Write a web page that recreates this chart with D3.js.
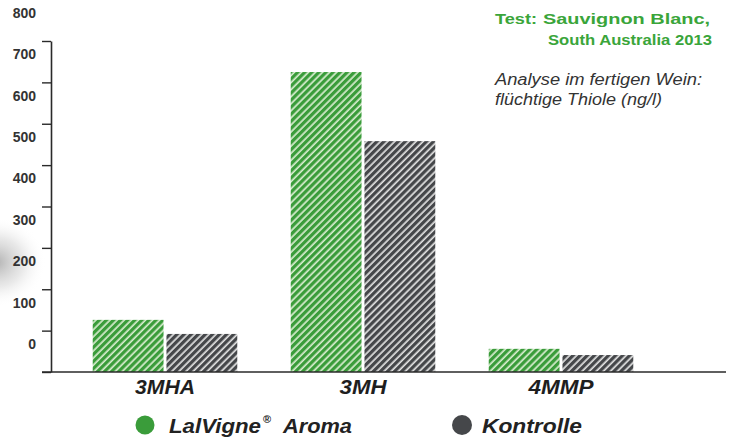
<!DOCTYPE html>
<html>
<head>
<meta charset="utf-8">
<script src="https://cdn.jsdelivr.net/npm/d3@7"></script>
<style>
  body { margin: 0; background: #fff; }
  svg { display: block; font-family: 'Liberation Sans', Arial, sans-serif; }
</style>
</head>
<body>
<svg id="chart" width="732" height="440"></svg>
<script>
// values (ng/l)
const categories = ['3MHA', '3MH', '4MMP'];
const serieses = ['LalVigne', 'Kontrolle'];
const lalvigne = [126, 725, 56];
const kontrolle = [92, 558, 41];
const yTicks = [0, 100, 200, 300, 400, 500, 600, 700, 800];

const colors = { LalVigne: '#3a9c3a', Kontrolle: '#45474a' };
const stripe = { LalVigne: '#d8eccf', Kontrolle: '#e2e2e2' };

const svg = d3.select('#chart');
const axisX = 51;
const baseY = 372;

const yScale = d3.scaleLinear().domain([0, 800]).range([baseY, 41]);
const xScale = d3.scaleBand().domain(categories).range([66, 660]).paddingInner(0.27).paddingOuter(0.135);
const xInner = d3.scaleBand().domain(serieses).range([0, xScale.bandwidth()]).paddingInner(0.04);

// stretched text, the original lettering is wider than Arial
function label(x, y, txt, size, len, opts = {}) {
  return svg.append('text')
    .attr('x', x).attr('y', y)
    .attr('fill', opts.fill || '#222')
    .attr('textLength', len)
    .attr('lengthAdjust', 'spacingAndGlyphs')
    .attr('text-anchor', opts.anchor || 'start')
    .style('font-size', size + 'px')
    .style('font-weight', opts.weight || 'normal')
    .style('font-style', opts.style || 'normal')
    .text(txt);
}

// soft shadow on the left edge
const defs = svg.append('defs');
const shade = defs.append('radialGradient').attr('id', 'shade');
shade.append('stop').attr('offset', '0%').attr('stop-color', '#888').attr('stop-opacity', 0.65);
shade.append('stop').attr('offset', '55%').attr('stop-color', '#b5b5b5').attr('stop-opacity', 0.3);
shade.append('stop').attr('offset', '100%').attr('stop-color', '#ffffff').attr('stop-opacity', 0);
svg.append('ellipse')
  .attr('cx', -4).attr('cy', 262).attr('rx', 50).attr('ry', 45)
  .attr('fill', 'url(#shade)');

// hatch patterns
serieses.forEach((s) => {
  const p = defs.append('pattern')
    .attr('id', 'hatch-' + s)
    .attr('patternUnits', 'userSpaceOnUse')
    .attr('width', 5).attr('height', 5)
    .attr('patternTransform', 'rotate(45)');
  p.append('rect').attr('width', 5).attr('height', 5).attr('fill', stripe[s]);
  p.append('rect').attr('width', 3.3).attr('height', 5).attr('fill', colors[s]);
});

// y axis
const yAxis = d3.axisLeft(yScale).tickValues(yTicks).tickSize(9).tickSizeOuter(0).tickPadding(6);
const yAxisG = svg.append('g').attr('transform', `translate(${axisX},0)`).call(yAxis);
yAxisG.select('.domain').attr('stroke', '#2a2a2a').attr('stroke-width', 1.6);
yAxisG.selectAll('.tick line').attr('stroke', '#2a2a2a').attr('stroke-width', 1.4);
yAxisG.selectAll('.tick text')
  .attr('transform', 'translate(0,-28)')
  .attr('fill', '#333')
  .style('font-family', "'Liberation Sans', Arial, sans-serif")
  .style('font-size', '14px')
  .style('font-weight', 'bold');

// bars
const values = { LalVigne: lalvigne, Kontrolle: kontrolle };
serieses.forEach((s) => {
  svg.append('g')
    .selectAll('rect')
    .data(categories)
    .enter()
    .append('rect')
    .attr('x', (d) => xScale(d) + xInner(s))
    .attr('y', (d, i) => yScale(values[s][i]))
    .attr('width', xInner.bandwidth())
    .attr('height', (d, i) => baseY - yScale(values[s][i]))
    .attr('fill', `url(#hatch-${s})`);
});

// baseline
svg.append('line')
  .attr('x1', 42).attr('x2', 726)
  .attr('y1', baseY).attr('y2', baseY)
  .attr('stroke', '#2a2a2a').attr('stroke-width', 1.6);

// category labels
const catWidth = { '3MHA': 60, '3MH': 47, '4MMP': 65 };
categories.forEach((c) => {
  label(xScale(c) + xScale.bandwidth() / 2, 394, c, 20, catWidth[c],
    { anchor: 'middle', weight: 'bold', style: 'italic', fill: '#1e1e1e' });
});

// legend
svg.append('circle').attr('cx', 145).attr('cy', 425).attr('r', 9.5).attr('fill', colors.LalVigne);
svg.append('circle').attr('cx', 462).attr('cy', 425).attr('r', 10).attr('fill', colors.Kontrolle);
label(169, 433, 'LalVigne', 21, 92, { weight: 'bold', style: 'italic' });
svg.append('text').attr('x', 263).attr('y', 423).attr('fill', '#222')
  .style('font-size', '11px').style('font-weight', 'bold').text('®');
label(283, 433, 'Aroma', 21, 69, { weight: 'bold', style: 'italic' });
label(482, 433, 'Kontrolle', 21, 100, { weight: 'bold', style: 'italic' });

// annotation
const green = '#3aa53a';
label(495, 24, 'Test:', 15, 42, { weight: 'bold', fill: green });
label(543, 24, 'Sauvignon Blanc,', 15, 167, { weight: 'bold', fill: green });
label(548, 45, 'South Australia 2013', 15, 164, { weight: 'bold', fill: green });
label(495, 85, 'Analyse im fertigen Wein:', 16, 207, { style: 'italic', fill: '#333' });
label(495, 105, 'flüchtige Thiole (ng/l)', 16, 167, { style: 'italic', fill: '#333' });
</script>
</body>
</html>
